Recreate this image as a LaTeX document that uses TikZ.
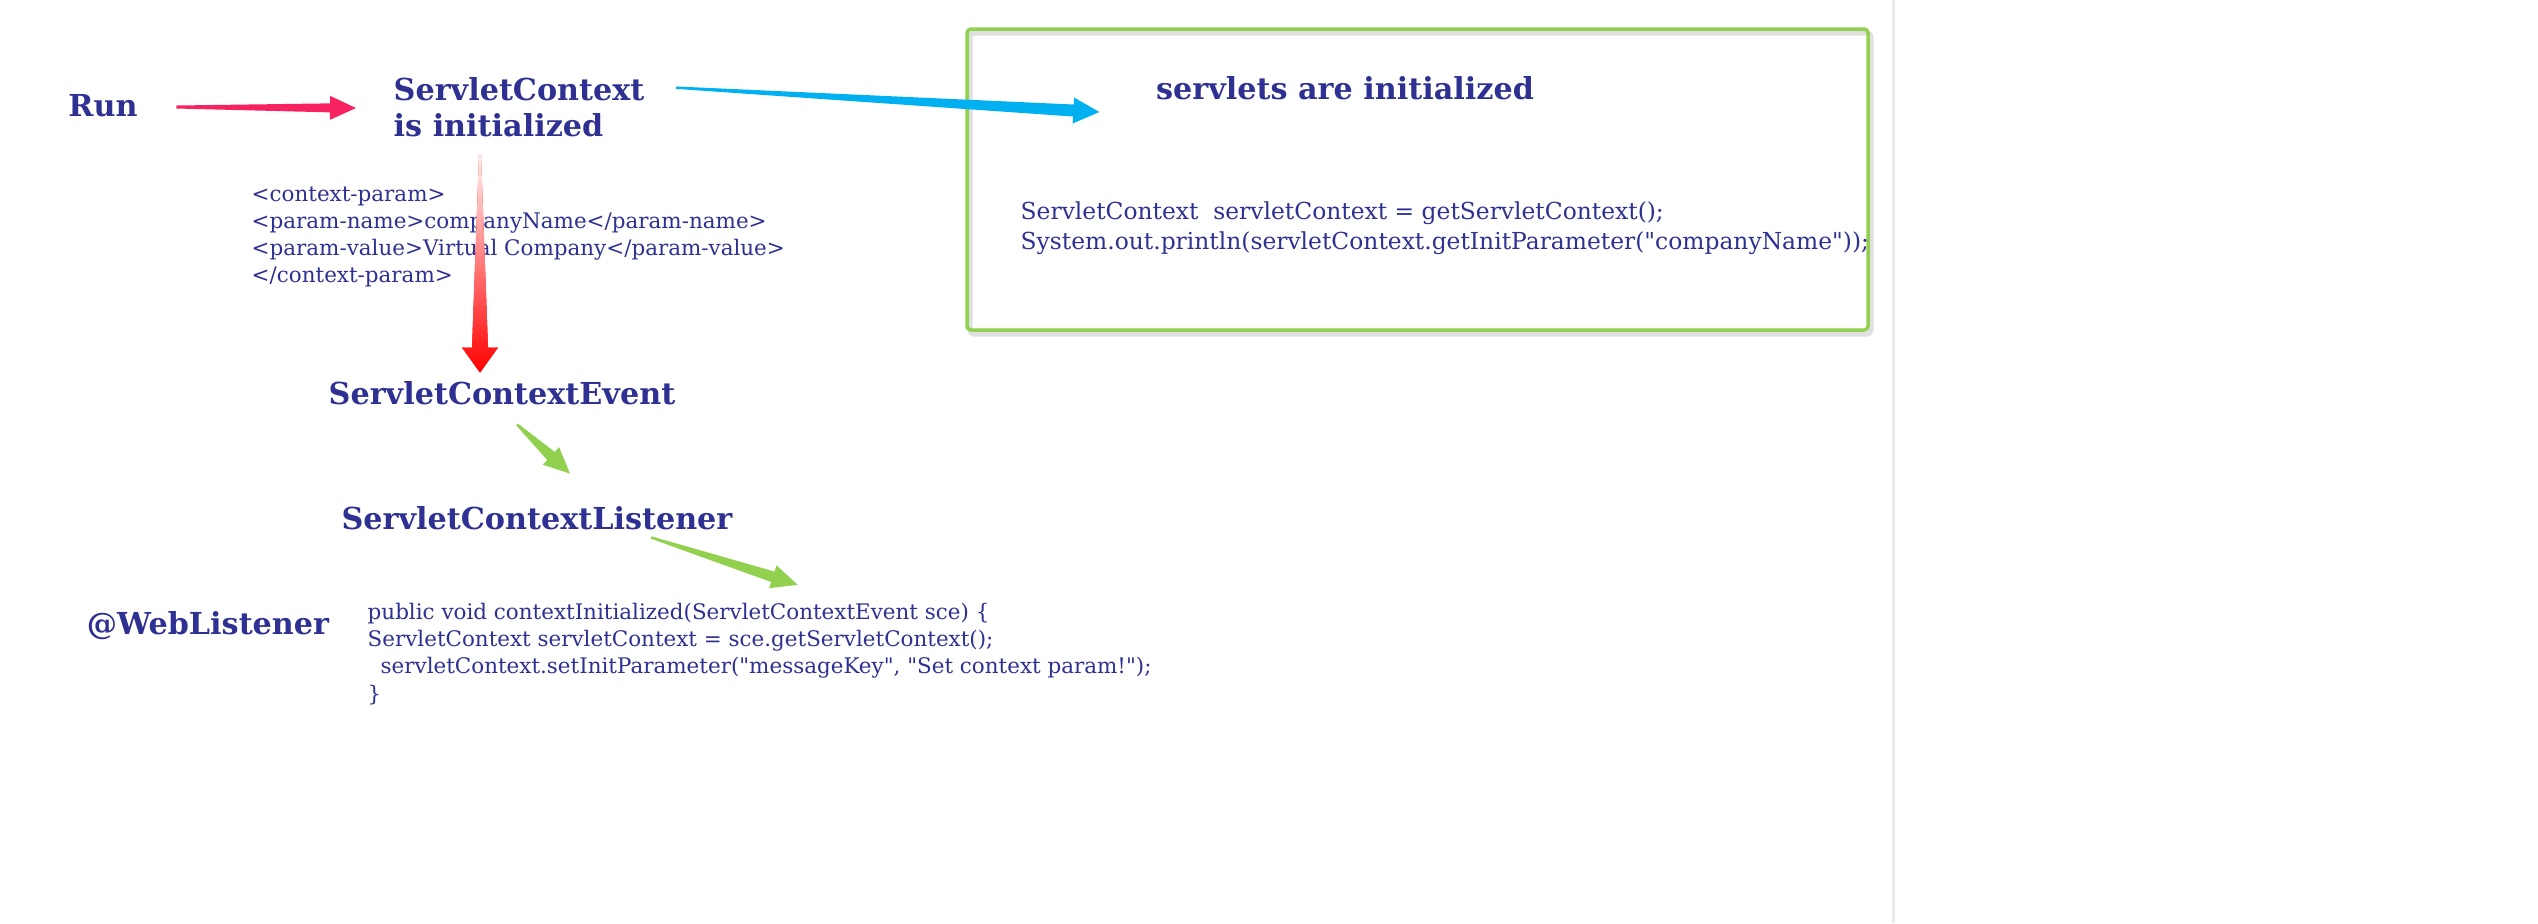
\documentclass[tikz,border=0pt]{standalone}
\usepackage{fontspec}
\setmainfont{DejaVu Serif}
\newfontfamily\codefont{DejaVu Serif}
\usetikzlibrary{calc}
\definecolor{navy}{HTML}{2E3192}
\definecolor{pinkarr}{HTML}{F72260}
\definecolor{bluearr}{HTML}{00B0F0}
\definecolor{greenarr}{HTML}{92D050}
\tikzset{
  arrtail/.store in=\arrtail, arrshaft/.store in=\arrshaft,
  arrhead/.store in=\arrhead, arrlen/.store in=\arrlen,
  arrtail=0.012cm, arrshaft=0.05cm, arrhead=0.12cm, arrlen=0.26cm,
  fat/.style={draw=none, fill=#1, to path={
    ($(\tikztostart)!\arrtail!90:(\tikztotarget)$)
    -- ($($(\tikztotarget)!\arrlen!(\tikztostart)$)!\arrshaft!90:(\tikztotarget)$)
    -- ($($(\tikztotarget)!\arrlen!(\tikztostart)$)!\arrhead!90:(\tikztotarget)$)
    -- (\tikztotarget)
    -- ($($(\tikztotarget)!\arrlen!(\tikztostart)$)!\arrhead!-90:(\tikztotarget)$)
    -- ($($(\tikztotarget)!\arrlen!(\tikztostart)$)!\arrshaft!-90:(\tikztotarget)$)
    -- ($(\tikztostart)!\arrtail!-90:(\tikztotarget)$)
    -- cycle}}
}
\begin{document}
\begin{tikzpicture}[x=0.01cm,y=-0.01cm]

      \fill[white] (0,0) rectangle (2538,923);
      \useasboundingbox (0,0) rectangle (2538,923);
      \draw[black!8, line width=0.03cm] (1893,0) -- (1893,923);
      \draw[black!12, line width=0.05cm, rounded corners=0.04cm] (970,33) rectangle (1871,334);
      \draw[greenarr, line width=0.035cm, rounded corners=0.04cm] (967,29) rectangle (1868,330);

      \begin{scope}[every node/.style={text=navy, inner sep=0pt, font=\fontsize{8.6}{10.2}\selectfont\bfseries}]
        \node (1) at (103,106) {Run};
        \node[anchor=west, align=left] (2) at (393,107) {ServletContext\\is initialized};
        \node (3) at (1345,88) {servlets are initialized};
        \node (4) at (502,393) {ServletContextEvent};
        \node (5) at (537,518) {ServletContextListener};
        \node (6) at (208,626) {@WebListener};
      \end{scope}

      \begin{scope}[every node/.style={text=navy, inner sep=0pt, anchor=west, align=left, font=\codefont\fontsize{6.1}{7.7}\selectfont}]
        \node (7) at (251,237) {<context-param>\\<param-name>companyName</param-name>\\<param-value>Virtual Company</param-value>\\</context-param>};
        \node (8) at (367,654) {public void contextInitialized(ServletContextEvent sce) \{\\ServletContext servletContext = sce.getServletContext();\\\hspace*{0.13cm}servletContext.setInitParameter("messageKey", "Set context param!");\\\}};
        \node[font=\codefont\fontsize{6.65}{8.5}\selectfont] (9) at (1020,228) {ServletContext\ \ servletContext = getServletContext();\\System.out.println(servletContext.getInitParameter("companyName"));};
      \end{scope}

      \begin{scope}[every edge/.style={}]
        \path ($(1.east)+(38,1)$) edge[fat=pinkarr, arrtail=0.015cm, arrshaft=0.045cm] ($(2.west)+(-37,1)$);
        \path ($(2.north east)+(31,11)$) edge[fat=bluearr, arrshaft=0.06cm, arrhead=0.13cm] ($(3.west)+(-56,24)$);
        \path ($(2.south west)+(87,18)$) edge[fat=red, top color=red!5, bottom color=red, arrtail=0.01cm, arrshaft=0.08cm, arrhead=0.18cm, arrlen=0.25cm] ($(4.north west)+(152,-8)$);
        \path ($(4.south)+(15,19)$) edge[fat=greenarr, arrshaft=0.055cm] ($(5.north)+(33,-32)$);
        \path ($(5.south)+(114,7)$) edge[fat=greenarr, arrshaft=0.055cm] ($(8.north)+(38,-18)$);
      \end{scope}

    \end{tikzpicture}
\end{document}
